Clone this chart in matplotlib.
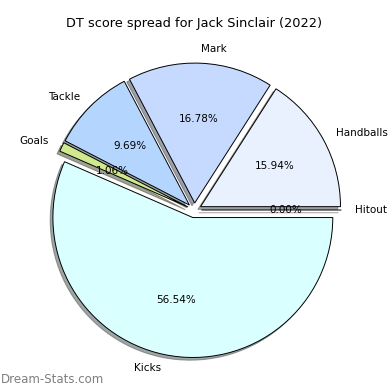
import matplotlib
matplotlib.use("Agg")
from matplotlib import pyplot as plt

# Data
labels = ["Hitout", "Handballs", "Mark", "Tackle", "Goals", "Kicks"]
shares = [0.0, 15.94, 16.78, 9.69, 1.06, 56.54]
colors = ["#e0e0e0", "#eaf1fe", "#c6d9fe", "#b4d5fe", "#cfe98f", "#d9ffff"]
explode = [0.05, 0.05, 0.05, 0.05, 0.05, 0.055]

total = sum(shares)

fig = plt.figure(figsize=(3.9, 3.9), dpi=100)
ax = fig.add_axes([0.05, 0.013, 0.897, 0.897])

# show the share itself as the percentage text
ax.pie(shares, labels=labels, colors=colors, explode=explode,
       autopct=lambda p: '%.2f%%' % (p * total / 100),
       shadow={'ox': -0.014, 'oy': -0.014}, startangle=0,
       wedgeprops={'edgecolor': 'black', 'linewidth': 0.7},
       textprops={'fontsize': 7.5})

ax.set_title("DT score spread for Jack Sinclair (2022)", fontsize=9.3, pad=6)

# watermark
fig.text(0.002, 0.01, "Dream-Stats.com", fontsize=8.5, color='#7f7f7f',
         ha='left', va='bottom')

fig.savefig("out.png", dpi=100)
